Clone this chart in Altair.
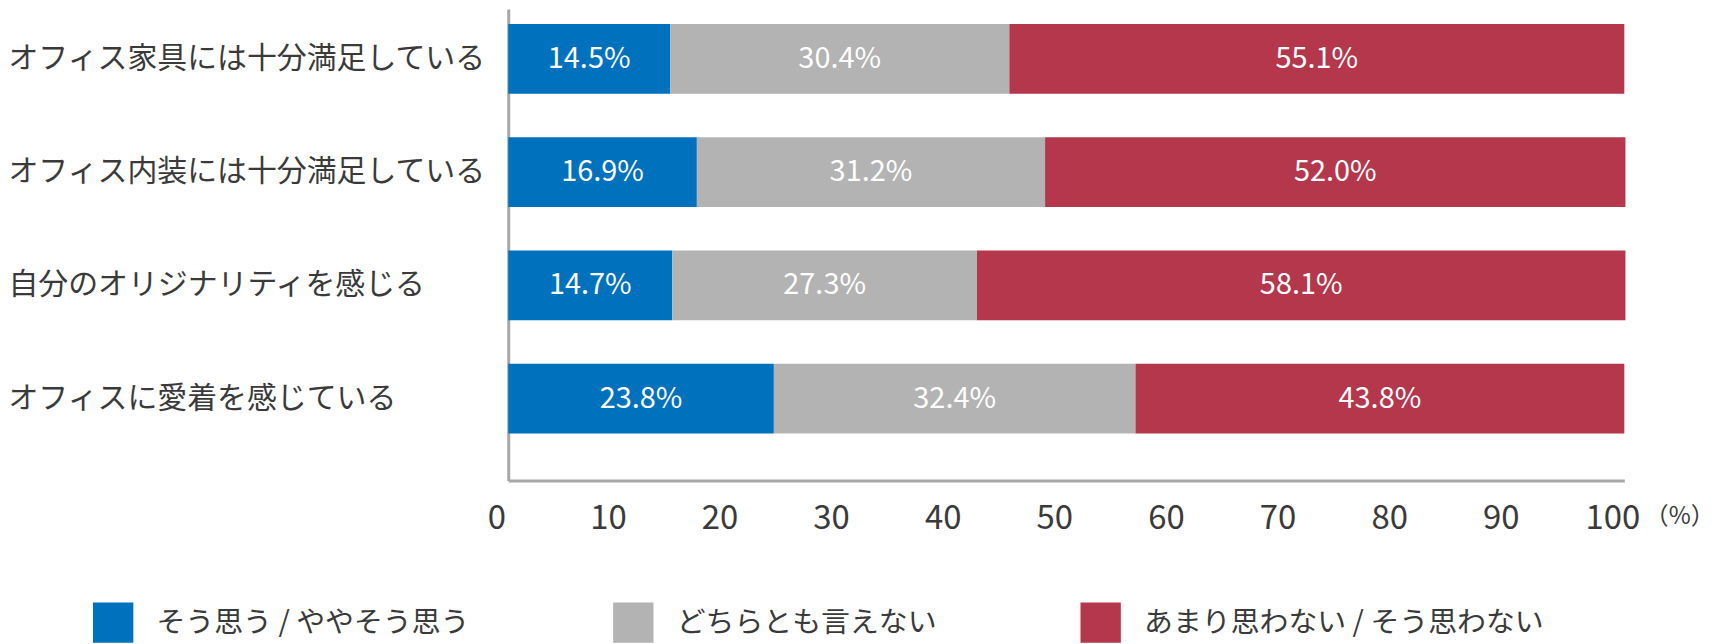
import altair as alt
import pandas as pd

# 設問と回答カテゴリ
items = [
    "オフィス家具には十分満足している",
    "オフィス内装には十分満足している",
    "自分のオリジナリティを感じる",
    "オフィスに愛着を感じている",
]
answers = ["そう思う / ややそう思う", "どちらとも言えない", "あまり思わない / そう思わない"]

# 回答割合 (%)
agree = [14.5, 16.9, 14.7, 23.8]
neutral = [30.4, 31.2, 27.3, 32.4]
disagree = [55.1, 52.0, 58.1, 43.8]

colors = ["#0071bc", "#b3b3b3", "#b5374c"]
x_ticks = [0, 10, 20, 30, 40, 50, 60, 70, 80, 90, 100]

FONT = "Noto Sans CJK JP"
TEXT_COLOR = "#3a3a3a"
LINE_COLOR = "#a8a8a8"

rows = []
for i, item in enumerate(items):
    for j, vals in enumerate([agree, neutral, disagree]):
        rows.append({"item": item, "answer": answers[j], "order": j, "value": vals[i]})
df = pd.DataFrame(rows)

base = alt.Chart(df).transform_window(
    end="sum(value)",
    groupby=["item"],
    sort=[alt.SortField("order")],
    frame=[None, 0],
).transform_calculate(
    start="datum.end - datum.value",
    mid="datum.end - datum.value / 2",
    label="format(datum.value, '.1f') + '%'",
)

y_enc = alt.Y(
    "item:N",
    sort=items,
    title=None,
    scale=alt.Scale(paddingInner=0.384, paddingOuter=0.273, align=0.242),
    axis=alt.Axis(
        domain=True, domainColor=LINE_COLOR, domainWidth=3,
        ticks=False, grid=False,
        labelAlign="left", labelPadding=502, labelLimit=700,
        labelFont=FONT, labelFontSize=30, labelColor=TEXT_COLOR,
    ),
)

bars = base.mark_bar().encode(
    x=alt.X(
        "start:Q",
        scale=alt.Scale(domain=[0, 100], nice=False),
        axis=alt.Axis(
            values=x_ticks, domain=True, domainColor=LINE_COLOR, domainWidth=3,
            ticks=False, grid=False, labelFlush=False, labelOverlap=False,
            labelOffset=-12, labelPadding=38, labelBaseline="middle",
            labelFont=FONT, labelFontSize=33, labelColor=TEXT_COLOR,
            title="（%）", titleFont=FONT, titleFontSize=24, titleFontWeight="normal",
            titleColor=TEXT_COLOR, titleX=1140, titleY=36,
            titleAlign="left", titleBaseline="middle", titleAngle=0,
        ),
    ),
    x2="end:Q",
    y=y_enc,
    color=alt.Color(
        "answer:N",
        sort=answers,
        scale=alt.Scale(domain=answers, range=colors),
        legend=alt.Legend(
            title=None, orient="none", direction="horizontal",
            legendX=-417, legendY=595, padding=0,
            symbolType="square", symbolSize=1640, symbolStrokeWidth=0, symbolOpacity=1,
            labelFont=FONT, labelFontSize=29, labelColor=TEXT_COLOR,
            labelOffset=23, labelLimit=600, columnPadding=143,
        ),
    ),
    order=alt.Order("order:Q"),
)

labels = base.mark_text(color="white", font=FONT, fontSize=29).encode(
    x=alt.X("mid:Q"),
    y=alt.Y("item:N", sort=items),
    text="label:N",
)

chart = (bars + labels).properties(
    width=1120,
    height=473,
    autosize=alt.AutoSizeParams(type="none"),
    padding={"left": 502, "top": 0, "right": 92, "bottom": 163},
).configure_view(stroke=None)

chart.save("out.html", embed_options={"renderer": "svg", "actions": False})
